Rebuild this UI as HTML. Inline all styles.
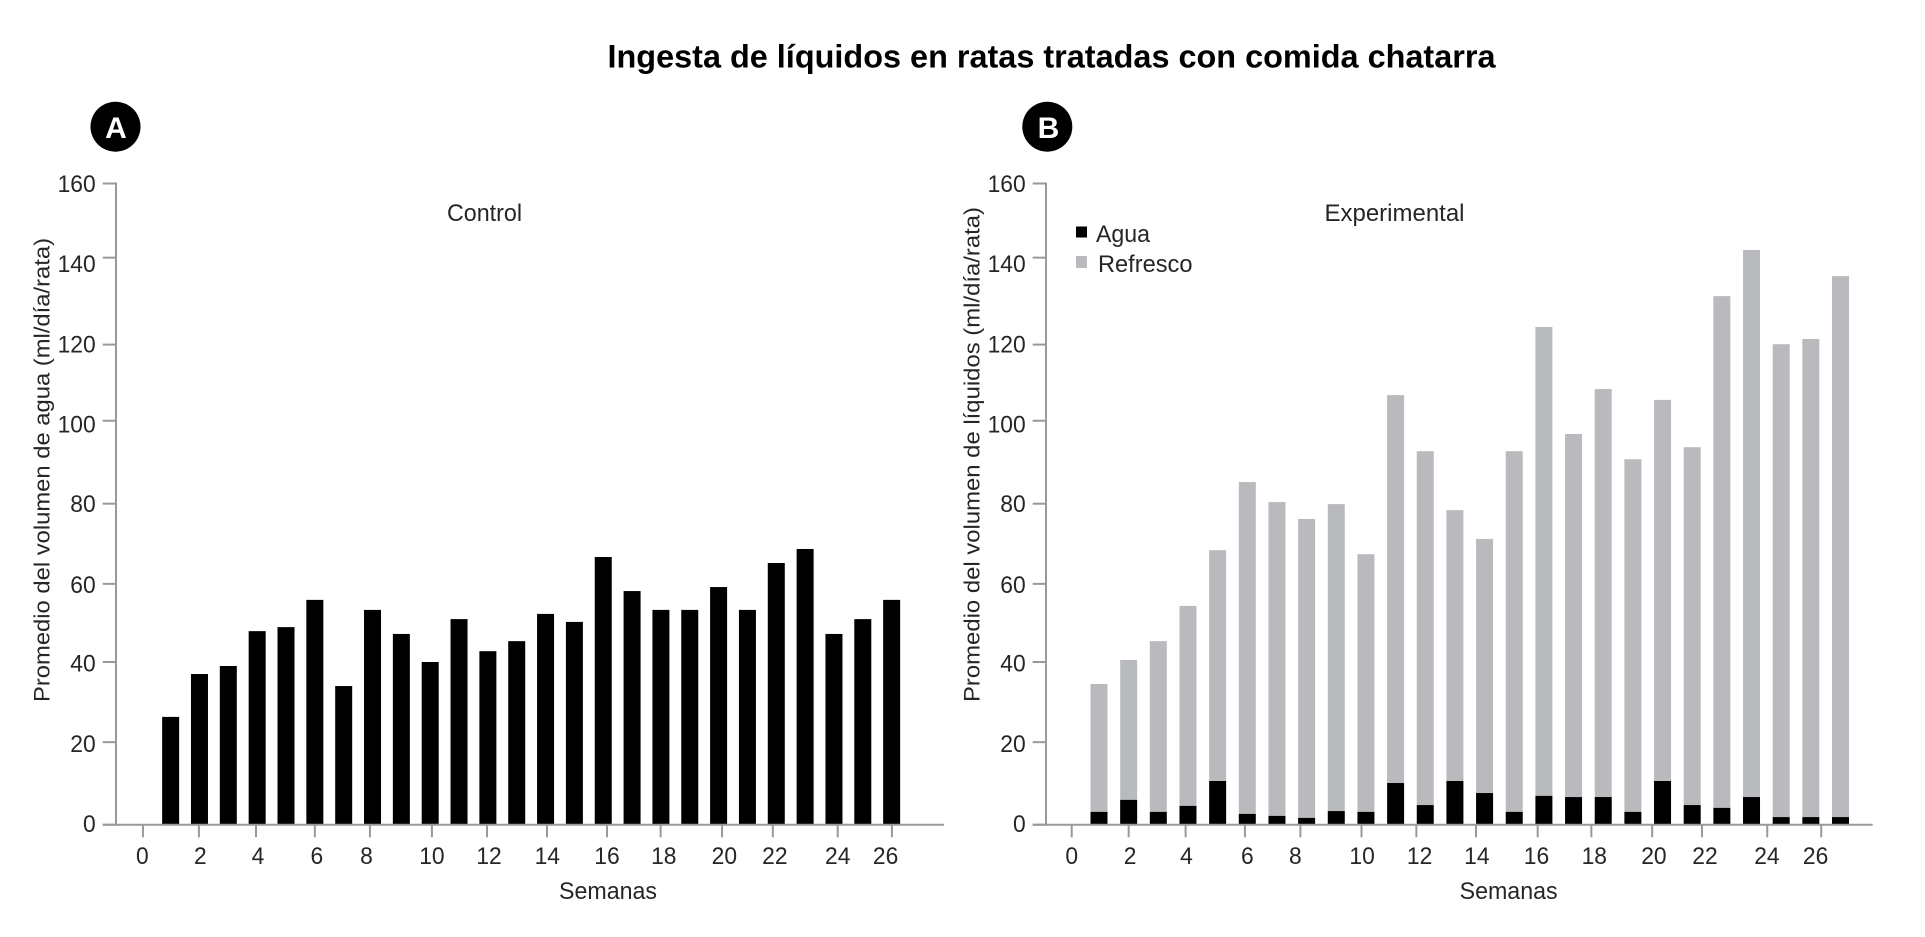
<!DOCTYPE html>
<html lang="es">
<head>
<meta charset="utf-8">
<title>Ingesta de líquidos en ratas tratadas con comida chatarra</title>
<style>
  html, body { margin: 0; padding: 0; background: #fff; }
  svg { display: block; font-family: "Liberation Sans", sans-serif; }
  text { fill: #262626; }
</style>
</head>
<body>
<svg id="figure" xmlns="http://www.w3.org/2000/svg" width="1925" height="937" viewBox="0 0 1925 937">
  <rect x="0" y="0" width="1925" height="937" fill="#ffffff"/>
  <text x="607.5" y="67.4" font-size="32" font-weight="700" textLength="888" lengthAdjust="spacingAndGlyphs" style="fill:#000">Ingesta de líquidos en ratas tratadas con comida chatarra</text>

  <circle cx="115.5" cy="126.7" r="25" fill="#000"/>
  <text x="116" y="138" font-size="30" font-weight="700" text-anchor="middle" style="fill:#fff">A</text>
  <circle cx="1047.3" cy="126.7" r="25" fill="#000"/>
  <text x="1048.5" y="138" font-size="30" font-weight="700" text-anchor="middle" style="fill:#fff">B</text>

  <g id="panel-a"></g>
  <g id="panel-b"></g>

  <text x="447" y="221" font-size="24" textLength="75" lengthAdjust="spacingAndGlyphs">Control</text>
  <text x="1324.5" y="221" font-size="24" textLength="140" lengthAdjust="spacingAndGlyphs">Experimental</text>

  <text transform="translate(49.3 702) rotate(-90)" font-size="22" textLength="464" lengthAdjust="spacingAndGlyphs">Promedio del volumen de agua (ml/día/rata)</text>
  <text transform="translate(979.3 702) rotate(-90)" font-size="22" textLength="495" lengthAdjust="spacingAndGlyphs">Promedio del volumen de líquidos (ml/día/rata)</text>
  <text x="559" y="899" font-size="24" textLength="98" lengthAdjust="spacingAndGlyphs">Semanas</text>
  <text x="1459.6" y="899" font-size="24" textLength="98" lengthAdjust="spacingAndGlyphs">Semanas</text>

  <g>
    <rect x="1076" y="226.5" width="11" height="11" fill="#000"/>
    <text x="1096" y="242" font-size="24" textLength="54" lengthAdjust="spacingAndGlyphs">Agua</text>
    <rect x="1076" y="256" width="11" height="12" fill="#b9babd"/>
    <text x="1098" y="272" font-size="24" textLength="94.5" lengthAdjust="spacingAndGlyphs">Refresco</text>
  </g>
</svg>

<script>
const weeks = [1,2,3,4,5,6,7,8,9,10,11,12,13,14,15,16,17,18,19,20,21,22,23,24,25,26];
const controlWater = [26.9,37.6,39.6,48.3,49.3,56.1,34.6,53.6,47.6,40.6,51.3,43.3,45.8,52.6,50.6,66.8,58.3,53.6,53.6,59.3,53.6,65.3,68.8,47.6,51.3,56.1];
const experimentalWater = [3.2,6.2,3.2,4.7,10.9,2.7,2.2,1.7,3.4,3.2,10.4,4.9,10.9,7.9,3.2,7.2,6.9,6.9,3.2,10.9,4.9,4.2,6.9,1.9,1.9,1.9];
const experimentalSoda = [31.9,34.9,42.6,49.9,57.6,82.8,78.3,74.6,76.6,64.3,96.8,88.3,67.6,63.4,90.0,117.0,90.6,101.8,88.0,95.1,89.3,127.7,136.5,118.0,119.3,135.0];

const yTickLabels = [0,20,40,60,80,100,120,140,160];
const yTickMarks = [0,20.6,40.6,60.1,80.1,100.8,119.8,141.5,160];
const yLabelAt = [0.35,20.3,40.3,60,80.1,100,119.9,140,160];
const xTickLabels = [0,2,4,6,8,10,12,14,16,18,20,22,24,26];
const controlXTickMarks = [0.04,1.98,3.96,6.0,7.91,10.06,11.97,14.05,16.13,17.99,20.12,21.88,24.13,26.01];
const controlXLabelAt = [0.02,2.03,4.03,6.07,7.79,10.06,12.04,14.06,16.13,18.1,20.2,21.95,24.13,25.79];
const experimentalXTickMarks = [0.08,2.0,3.92,5.92,7.79,9.85,11.7,13.71,15.79,17.6,19.65,21.33,23.53,25.35];
const experimentalXLabelAt = [0.08,2.05,3.95,6.0,7.62,9.87,11.81,13.74,15.75,17.7,19.71,21.43,23.52,25.16];

const SVG_NS = 'http://www.w3.org/2000/svg';
const AXIS_COLOR = '#999999';
const yScale = v => 824.7 - v * 4.0075;
const controlX = w => 141.8 + 28.84 * w;
const experimentalX = w => 1069.34 + 29.66 * w;
const labelWidth = label => String(label).length * 12.7;

function make(parent, tag, props, text) {
  const el = document.createElementNS(SVG_NS, tag);
  for (const key in props) el.setAttribute(key, props[key]);
  if (text !== undefined) el.textContent = text;
  parent.appendChild(el);
  return el;
}

function drawAxes(root, geom, xScale, xMarks, xLabelAt) {
  const yLine = make(root, 'line', {x1: geom.axisX, x2: geom.axisX, y1: yScale(160) - 1, y2: yScale(0), stroke: AXIS_COLOR, 'stroke-width': 2});
  
  
  const xLine = make(root, 'line', {x1: geom.axisX - 13.3, x2: geom.axisEnd, y1: yScale(0), y2: yScale(0), stroke: AXIS_COLOR, 'stroke-width': 2});
  
  

  yTickLabels.forEach((label, i) => {
    const tick = make(root, 'line', {x1: geom.axisX - 13.3, x2: geom.axisX, y1: yScale(yTickMarks[i]), y2: yScale(yTickMarks[i]), stroke: AXIS_COLOR, 'stroke-width': 2});
    
    
    const txt = make(root, 'text', {x: geom.axisX - 20.3, y: yScale(yLabelAt[i]) + 8.5, 'font-size': 24, 'text-anchor': 'end', textLength: labelWidth(label), lengthAdjust: 'spacingAndGlyphs'}, String(label));
    
    
  });

  xTickLabels.forEach((label, i) => {
    const tick = make(root, 'line', {x1: xScale(xMarks[i]), x2: xScale(xMarks[i]), y1: yScale(0), y2: 837.3, stroke: AXIS_COLOR, 'stroke-width': 2});
    
    
    const txt = make(root, 'text', {x: xScale(xLabelAt[i]), y: 864, 'font-size': 24, 'text-anchor': 'middle', textLength: labelWidth(label), lengthAdjust: 'spacingAndGlyphs'}, String(label));
    
    
  });
}

function drawBar(root, xScale, week, from, to, color, name) {
  const bar = make(root, 'rect', {
    x: xScale(week) - 8.5,
    y: yScale(to),
    width: 17,
    height: yScale(from) - yScale(to),
    fill: color
  });
  
  
}

const panelA = document.getElementById('panel-a');
weeks.forEach((week, i) => {
  drawBar(panelA, controlX, week, 0, controlWater[i], '#000000', 'control-water-bar-week-' + week);
});
drawAxes(panelA, {axisX: 116, axisEnd: 944}, controlX, controlXTickMarks, controlXLabelAt);

const panelB = document.getElementById('panel-b');
weeks.forEach((week, i) => {
  drawBar(panelB, experimentalX, week, experimentalWater[i], experimentalWater[i] + experimentalSoda[i], '#b9babd', 'experimental-soda-bar-week-' + week);
  drawBar(panelB, experimentalX, week, 0, experimentalWater[i], '#000000', 'experimental-water-bar-week-' + week);
});
drawAxes(panelB, {axisX: 1046, axisEnd: 1872.7}, experimentalX, experimentalXTickMarks, experimentalXLabelAt);
</script>
</body>
</html>
